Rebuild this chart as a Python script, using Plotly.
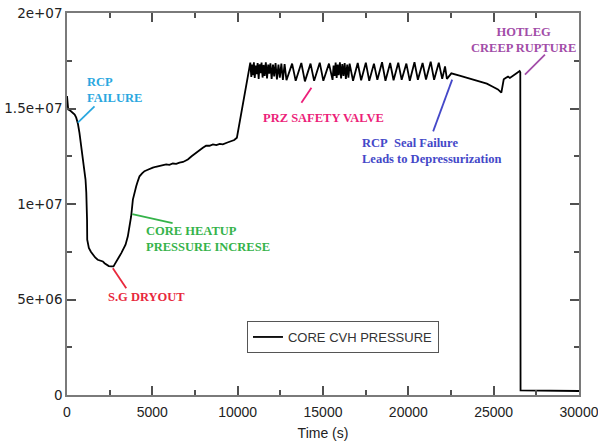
import plotly.graph_objects as go

# ---- data (time in s, pressure in units of 1e6 Pa) ----
time_s = [
    0, 40, 70, 200, 340, 450, 540, 640, 730, 830, 930, 1010, 1085, 1130, 1160, 1175, 1185,
    1230, 1280, 1400, 1510, 1650, 1800, 1950, 2100, 2200, 2300, 2450, 2590, 2725, 2800, 2880,
    3030, 3180, 3300, 3430, 3565, 3665, 3720, 3760, 3860, 3950, 4055, 4150, 4250, 4400, 4540,
    4700, 4850, 5030, 5200, 5400, 5600, 5810, 6000, 6200, 6400, 6590, 6800, 7080, 7300, 7570,
    7760, 7960, 8150, 8350, 8550, 8750, 8950, 9130, 9400, 9625, 9800, 9955, 10080, 10210,
    10350, 10505, 10620, 10740,
    # PRZ safety valve cycling
    10800, 10850, 10900, 10950, 11000, 11060, 11110, 11170, 11230, 11290, 11340, 11400, 11460,
    11520, 11580, 11650, 11720, 11790, 11850, 11920, 11990, 12070, 12140, 12220, 12300, 12390,
    12470, 12560, 12650, 12750, 12860,
    13190, 13400, 13730, 13940, 14270, 14480, 14810, 15020, 15350, 15560,
    15620, 15680, 15740, 15800, 15860, 15920, 15990, 16060, 16130, 16200, 16270, 16340, 16420,
    16490, 16560,
    16760, 17035, 17235, 17510, 17710, 17985, 18185, 18460, 18660, 18935, 19135, 19410, 19610,
    19885, 20085, 20360, 20560, 20835, 21035, 21310, 21510, 21785, 21985, 22150, 22260,
    # seal failure, creep rupture
    22520, 23000, 23500, 24180, 24600, 24950, 25250, 25450, 25520, 25590, 25700, 25840, 25950,
    26130, 26300, 26520, 26560, 26575, 27200, 27400, 30000,
]
pressure_e6 = [
    15.65, 15.10, 14.95, 14.88, 14.78, 14.68, 14.52, 14.20, 13.73, 13.10, 12.50, 11.90, 11.28,
    10.60, 9.88, 9.18, 8.13, 7.85, 7.70, 7.50, 7.35, 7.20, 7.08, 7.02, 6.99, 6.90, 6.82, 6.75,
    6.73, 6.73, 6.85, 6.99, 7.20, 7.43, 7.65, 7.87, 8.31, 8.83, 9.18, 9.36, 10.23, 10.60, 10.93,
    11.20, 11.45, 11.60, 11.72, 11.78, 11.85, 11.90, 11.95, 12.00, 12.02, 12.07, 12.05, 12.12,
    12.10, 12.17, 12.20, 12.33, 12.50, 12.68, 12.85, 12.94, 13.05, 13.05, 13.12, 13.08, 13.15,
    13.12, 13.22, 13.29, 13.35, 13.47, 14.10, 14.78, 15.50, 16.17, 16.80, 17.40,
    16.65, 17.30, 16.75, 17.42, 16.60, 17.25, 16.80, 17.38, 16.55, 17.32, 16.85, 17.40, 16.62,
    17.28, 16.70, 17.42, 16.58, 17.30, 16.82, 17.36, 16.55, 17.30, 16.68, 17.38, 16.52, 17.30,
    16.62, 17.35, 16.50, 17.32, 16.48,
    17.35, 16.45, 17.38, 16.42, 17.35, 16.45, 17.40, 16.45, 17.35, 16.50,
    17.25, 16.70, 17.40, 16.60, 17.30, 16.75, 17.42, 16.58, 17.32, 16.70, 17.38, 16.55, 17.30,
    16.62, 17.35,
    16.45, 17.38, 16.48, 17.40, 16.45, 17.35, 16.50, 17.42, 16.45, 17.38, 16.48, 17.40, 16.50,
    17.35, 16.45, 17.42, 16.50, 17.38, 16.52, 17.45, 16.50, 17.40, 16.55, 17.20, 16.55,
    16.84, 16.72, 16.60, 16.44, 16.30, 16.14, 16.00, 15.83, 16.20, 16.53, 16.60, 16.67, 16.60,
    16.74, 16.82, 16.96, 16.90, 0.24, 0.24, 0.21, 0.21,
]
series_name = "CORE CVH PRESSURE"

x_tick_vals = [0, 5000, 10000, 15000, 20000, 25000, 30000]
x_tick_text = ["0", "5000", "10000", "15000", "20000", "25000", "30000"]
x_minor_vals = [2500, 7500, 12500, 17500, 22500, 27500]
y_tick_vals = [0, 5e6, 1e7, 1.5e7, 2e7]
y_tick_text = ["0", "5e+06", "1e+07", "1.5e+07", "2e+07"]
y_minor_vals = [2.5e6, 7.5e6, 12.5e6, 17.5e6]

pressure_pa = [v * 1e6 for v in pressure_e6]

fig = go.Figure()
fig.add_trace(go.Scatter(x=time_s, y=pressure_pa, mode="lines", name=series_name,
                         line=dict(color="black", width=1.8)))

axis_col = "#7a7a7a"
tick_col = "#505050"
fig.update_layout(
    xaxis=dict(range=[0, 30000], tickmode="array", tickvals=x_tick_vals, ticktext=x_tick_text,
               showline=True, linecolor=axis_col, linewidth=1.5, mirror="allticks",
               ticks="inside", ticklen=9, tickwidth=2, tickcolor=tick_col, automargin=False,
               showgrid=False, zeroline=False, ticklabeloverflow="allow", ticklabelstandoff=3,
               tickfont=dict(family="Liberation Sans", size=14, color="#222"),
               title=dict(text="Time (s)", font=dict(family="Liberation Sans", size=14, color="#222"),
                          standoff=12)),
    yaxis=dict(range=[0, 2e7], tickmode="array", tickvals=y_tick_vals, ticktext=y_tick_text,
               showline=True, linecolor=axis_col, linewidth=1.5, mirror="allticks",
               ticks="inside", ticklen=9, tickwidth=2, tickcolor=tick_col, automargin=False,
               showgrid=False, zeroline=False, ticklabeloverflow="allow",
               tickfont=dict(family="DejaVu Sans", size=13.5, color="#222")),
    xaxis2=dict(range=[0, 30000], overlaying="x", anchor="y", side="bottom", tickmode="array",
                tickvals=x_minor_vals, ticks="inside", ticklen=5, tickwidth=2, tickcolor=tick_col,
                mirror="allticks", showline=False, showgrid=False, zeroline=False,
                showticklabels=False, automargin=False),
    yaxis2=dict(range=[0, 2e7], overlaying="y", anchor="x", side="left", tickmode="array",
                tickvals=y_minor_vals, ticks="inside", ticklen=5, tickwidth=2, tickcolor=tick_col,
                mirror="allticks", showline=False, showgrid=False, zeroline=False,
                showticklabels=False, automargin=False),
)
# invisible helper trace so the minor-tick axes are drawn
fig.add_trace(go.Scatter(x=[time_s[0]], y=[pressure_pa[0]], xaxis="x2", yaxis="y2",
                         mode="lines", showlegend=False, hoverinfo="skip",
                         line=dict(color="rgba(0,0,0,0)")))

# annotation texts
notes = [
    dict(text="RCP<br>FAILURE", x=1026, y=15.95e6, xanchor="left", align="left", color="#2aa7df"),
    dict(text="PRZ SAFETY VALVE", x=15044, y=14.50e6, xanchor="center", align="center", color="#ec1f7a"),
    dict(text="RCP&nbsp; Seal Failure<br>Leads to Depressurization", x=17155, y=12.80e6,
         xanchor="left", align="left", color="#4448c8"),
    dict(text="HOTLEG<br>CREEP RUPTURE", x=26774, y=18.61e6, xanchor="center", align="center", color="#a24da8"),
    dict(text="CORE HEATUP<br>PRESSURE INCRESE", x=4487, y=8.19e6, xanchor="left", align="left", color="#35b34a"),
    dict(text="S.G DRYOUT", x=4663, y=5.15e6, xanchor="center", align="center", color="#e8283c"),
]
for n in notes:
    fig.add_annotation(x=n["x"], y=n["y"], xref="x", yref="y", text=n["text"], showarrow=False,
                       xanchor=n["xanchor"], yanchor="middle", align=n["align"],
                       font=dict(family="Liberation Serif", size=12.5, color=n["color"], weight="bold"))

# pointer lines (data coordinates)
pointers = [
    (633, 14.26e6, 1613, 15.11e6, "#2aa7df"),
    (13736, 15.30e6, 14323, 16.09e6, "#ec1f7a"),
    (21454, 13.80e6, 22569, 16.51e6, "#4448c8"),
    (26832, 16.77e6, 28005, 17.82e6, "#a24da8"),
    (3824, 9.47e6, 6188, 9.00e6, "#35b34a"),
    (2686, 6.64e6, 3472, 5.59e6, "#e8283c"),
]
for x0, y0, x1, y1, c in pointers:
    fig.add_shape(type="line", xref="x", yref="y", x0=x0, y0=y0, x1=x1, y1=y1,
                  line=dict(color=c, width=1.8))

fig.update_layout(
    width=598, height=441,
    margin=dict(l=67, r=19, t=13, b=46),
    paper_bgcolor="white", plot_bgcolor="white",
    showlegend=True,
    legend=dict(x=0.3515, y=0.1937, xanchor="left", yanchor="top",
                bordercolor="#555", borderwidth=1, bgcolor="white", tracegroupgap=0,
                font=dict(family="Liberation Sans", size=13, color="#333")),
)

fig.write_html("out.html")
